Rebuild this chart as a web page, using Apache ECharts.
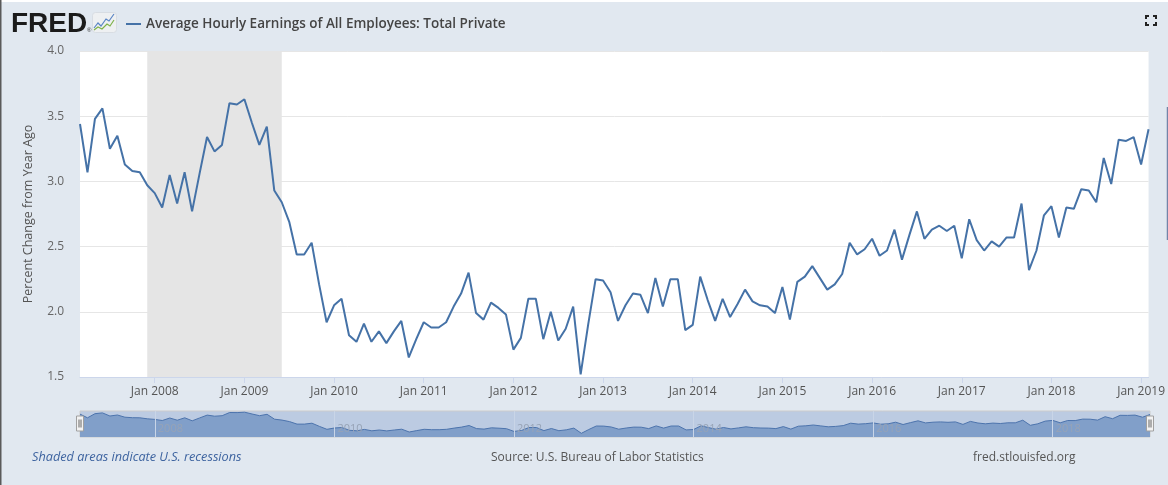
<!DOCTYPE html>
<html>
<head>
<meta charset="utf-8">
<script src="https://cdn.jsdelivr.net/npm/echarts/dist/echarts.min.js"></script>
<style>
html,body{margin:0;padding:0;background:#e1e8f0;}
#c{width:1168px;height:485px;}
</style>
</head>
<body>
<div id="c"></div>
<script>
// Monthly year-over-year % change, Mar 2007 .. Feb 2019
const startYear = 2007, startMonth = 3;
const v2007 = [3.44, 3.07, 3.48, 3.56, 3.25, 3.35, 3.13, 3.08, 3.07, 2.97];
const v2008 = [2.91, 2.80, 3.05, 2.83, 3.07, 2.77, 3.06, 3.34, 3.23, 3.28, 3.60, 3.59];
const v2009 = [3.63, 3.45, 3.28, 3.42, 2.93, 2.84, 2.69, 2.44, 2.44, 2.53, 2.21, 1.92];
const v2010 = [2.05, 2.10, 1.82, 1.77, 1.91, 1.77, 1.85, 1.76, 1.85, 1.93, 1.65, 1.79];
const v2011 = [1.92, 1.88, 1.88, 1.92, 2.04, 2.14, 2.30, 1.99, 1.94, 2.07, 2.03, 1.98];
const v2012 = [1.71, 1.80, 2.10, 2.10, 1.79, 2.00, 1.78, 1.87, 2.04, 1.52, 1.90, 2.25];
const v2013 = [2.24, 2.15, 1.93, 2.05, 2.14, 2.13, 1.99, 2.26, 2.04, 2.25, 2.25, 1.86];
const v2014 = [1.90, 2.27, 2.09, 1.93, 2.10, 1.96, 2.06, 2.17, 2.08, 2.05, 2.04, 1.99];
const v2015 = [2.19, 1.94, 2.23, 2.27, 2.35, 2.26, 2.17, 2.21, 2.29, 2.53, 2.44, 2.48];
const v2016 = [2.56, 2.43, 2.47, 2.63, 2.40, 2.59, 2.77, 2.56, 2.63, 2.66, 2.62, 2.66];
const v2017 = [2.41, 2.71, 2.55, 2.47, 2.54, 2.50, 2.57, 2.57, 2.83, 2.32, 2.47, 2.74];
const v2018 = [2.81, 2.57, 2.80, 2.79, 2.94, 2.93, 2.84, 3.18, 2.98, 3.32, 3.31, 3.34];
const v2019 = [3.13, 3.40];
const values = [].concat(v2007, v2008, v2009, v2010, v2011, v2012, v2013, v2014, v2015, v2016, v2017, v2018, v2019);

const recession = ['2007-12', '2009-06'];
const seriesName = 'Average Hourly Earnings of All Employees: Total Private';
const yAxisName = 'Percent Change from Year Ago';

const categories = [];
for (let i = 0; i < values.length; i++) {
  const m = startMonth - 1 + i;
  const y = startYear + Math.floor(m / 12);
  const mm = (m % 12) + 1;
  categories.push(y + '-' + (mm < 10 ? '0' + mm : '' + mm));
}
const isJan = (idx) => categories[idx].slice(5) === '01';
const isEvenJan = (idx) => isJan(idx) && (parseInt(categories[idx].slice(0, 4)) % 2 === 0);

const chart = echarts.init(document.getElementById('c'), null, {renderer: 'canvas'});
const FONT = 'Open Sans';

chart.setOption({
  backgroundColor: '#e1e8f0',
  animation: false,
  legend: {
    show: true,
    data: [seriesName],
    left: 121, top: 12,
    icon: 'rect', itemWidth: 15, itemHeight: 2,
    textStyle: {color: '#444', fontSize: 13.5, fontWeight: 600, fontFamily: FONT},
    selectedMode: false
  },
  grid: [
    {left: 80, right: 18, top: 51, bottom: 108, show: true, backgroundColor: '#ffffff', borderWidth: 0},
    {left: 80, right: 18, top: 411, height: 26, show: true, backgroundColor: '#bccbe2', borderColor: '#cccccc', borderWidth: 1}
  ],
  xAxis: [
    {
      type: 'category', gridIndex: 0, data: categories, boundaryGap: false,
      axisLine: {show: true, lineStyle: {color: '#ccd6eb', width: 1}},
      axisTick: {show: true, interval: (i) => isJan(i), length: 6, lineStyle: {color: '#ccd6eb'}},
      axisLabel: {
        interval: (i) => isJan(i), margin: 9, color: '#555', fontSize: 12, fontFamily: FONT,
        formatter: (v) => 'Jan ' + v.slice(0, 4)
      },
      splitLine: {show: false}
    },
    {
      type: 'category', gridIndex: 1, data: categories, boundaryGap: false, z: 3,
      axisLine: {show: false}, axisTick: {show: false},
      axisLabel: {
        inside: true, interval: (i) => isEvenJan(i), margin: 3, align: 'left', padding: [0, 0, 0, 3],
        color: '#97a3b6', fontSize: 11, fontFamily: FONT,
        formatter: (v) => v.slice(0, 4)
      },
      splitLine: {show: true, interval: (i) => isEvenJan(i), lineStyle: {color: '#c9d5e7', width: 1}}
    }
  ],
  yAxis: [
    {
      type: 'value', gridIndex: 0, min: 1.5, max: 4.0, interval: 0.5,
      axisLine: {show: false}, axisTick: {show: false},
      axisLabel: {formatter: (v) => v.toFixed(1), color: '#666', fontSize: 12, fontFamily: FONT, margin: 16},
      splitLine: {show: true, lineStyle: {color: '#e6e6e6', width: 1}},
      name: yAxisName, nameLocation: 'middle', nameGap: 45, nameRotate: 90,
      nameTextStyle: {color: '#555', fontSize: 12.5, fontFamily: FONT}
    },
    {
      type: 'value', gridIndex: 1, min: 1.15, max: 3.75, show: false
    }
  ],
  series: [
    {
      name: seriesName, type: 'line', xAxisIndex: 0, yAxisIndex: 0, data: values,
      symbol: 'none', lineStyle: {color: '#4572a7', width: 2}, itemStyle: {color: '#4572a7'},
      z: 5,
      markArea: {
        silent: true,
        itemStyle: {color: '#e5e5e5'},
        data: [[{xAxis: recession[0]}, {xAxis: recession[1]}]]
      }
    },
    {
      name: 'navigator', type: 'line', xAxisIndex: 1, yAxisIndex: 1, data: values,
      symbol: 'none', lineStyle: {color: '#4d74ad', width: 1},
      areaStyle: {color: '#819fc9', opacity: 1}, z: 2
    }
  ],
  graphic: [
    {type: 'rect', left: 0, top: 0, shape: {width: 1168, height: 2}, style: {fill: '#ffffff'}},
    {type: 'rect', left: 0, top: 0, shape: {width: 1.5, height: 485}, style: {fill: '#5a5a5a'}},
    {type: 'text', left: 11, top: 10, style: {text: 'FRED', fill: '#1b1b1b', font: 'bold 28px "Liberation Sans", Arial, sans-serif'}},
    {type: 'text', left: 87, top: 27, style: {text: '®', fill: '#333', font: '6px sans-serif'}},
    {type: 'rect', left: 92, top: 12, shape: {width: 24, height: 20, r: 3}, style: {fill: '#eef0f2', stroke: '#d8dde3'}},
    {type: 'polyline', shape: {points: [[94, 28], [98, 23], [101, 26], [106, 19], [109, 21], [114, 14]]}, style: {stroke: '#5b86c5', lineWidth: 1.2, fill: null}},
    {type: 'polyline', shape: {points: [[94, 30], [98, 27], [102, 29], [107, 24], [110, 26], [114, 20]]}, style: {stroke: '#7fb24a', lineWidth: 1.2, fill: null}},
    // fullscreen icon
    {type: 'polyline', shape: {points: [[1146, 19], [1146, 16], [1149, 16]]}, style: {stroke: '#222', lineWidth: 2, fill: null}},
    {type: 'polyline', shape: {points: [[1153, 16], [1156, 16], [1156, 19]]}, style: {stroke: '#222', lineWidth: 2, fill: null}},
    {type: 'polyline', shape: {points: [[1146, 22], [1146, 25], [1149, 25]]}, style: {stroke: '#222', lineWidth: 2, fill: null}},
    {type: 'polyline', shape: {points: [[1153, 25], [1156, 25], [1156, 22]]}, style: {stroke: '#222', lineWidth: 2, fill: null}},
    // right scroll line
    {type: 'line', shape: {x1: 1167.5, y1: 107, x2: 1167.5, y2: 240}, style: {stroke: '#7384a8', lineWidth: 1.5}},
    // navigator handles
    {type: 'rect', shape: {x: 76.5, y: 416, width: 7, height: 15}, style: {fill: '#f2f2f2', stroke: '#a0a0a0', lineWidth: 1}, z: 10},
    {type: 'line', shape: {x1: 79, y1: 419.5, x2: 79, y2: 427.5}, style: {stroke: '#666', lineWidth: 1}, z: 11},
    {type: 'line', shape: {x1: 81, y1: 419.5, x2: 81, y2: 427.5}, style: {stroke: '#666', lineWidth: 1}, z: 11},
    {type: 'rect', shape: {x: 1146.5, y: 416, width: 7, height: 15}, style: {fill: '#f2f2f2', stroke: '#a0a0a0', lineWidth: 1}, z: 10},
    {type: 'line', shape: {x1: 1149, y1: 419.5, x2: 1149, y2: 427.5}, style: {stroke: '#666', lineWidth: 1}, z: 11},
    {type: 'line', shape: {x1: 1151, y1: 419.5, x2: 1151, y2: 427.5}, style: {stroke: '#666', lineWidth: 1}, z: 11},
    // footer
    {type: 'text', left: 32, top: 451, style: {text: 'Shaded areas indicate U.S. recessions', fill: '#3e64a0', font: 'italic 12.7px "Open Sans", sans-serif'}},
    {type: 'text', left: 491, top: 452, style: {text: 'Source: U.S. Bureau of Labor Statistics', fill: '#555', font: '12px "Open Sans", sans-serif'}},
    {type: 'text', left: 973, top: 452, style: {text: 'fred.stlouisfed.org', fill: '#555', font: '12px "Open Sans", sans-serif'}}
  ]
});
</script>
</body>
</html>
